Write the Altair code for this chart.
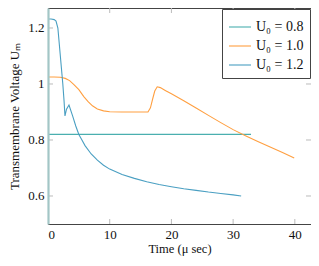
import altair as alt
import pandas as pd

labels = ["U₀ = 0.8", "U₀ = 1.0", "U₀ = 1.2"]
colors = ["#4aafaf", "#ff9f40", "#4a9fc2"]

t_08 = [0, 32.9]
v_08 = [0.82, 0.82]

t_10 = [0, 1, 2, 2.8, 3.5, 4.2, 5, 5.8, 6.5, 7.2, 8, 9, 10, 12, 14, 16.2, 16.6, 17.0, 17.3, 17.7, 18.2, 19,
        20, 22, 24, 26, 28, 30, 32, 34, 36, 38, 39.9]
v_10 = [1.025, 1.025, 1.024, 1.02, 1.012, 0.998, 0.98, 0.955, 0.937, 0.922, 0.911, 0.904, 0.901, 0.9, 0.9, 0.9,
        0.915, 0.95, 0.975, 0.99, 0.987, 0.977, 0.965, 0.94, 0.914, 0.888, 0.862, 0.837, 0.815, 0.795, 0.775,
        0.755, 0.736]

t_12 = [0, 0.5, 1.0, 1.3, 1.6, 2.0, 2.4, 2.6, 2.75, 3.0, 3.4, 4.0, 4.5, 5.0, 5.5, 6, 7, 8, 9, 10, 12, 14, 16,
        18, 20, 22, 24, 26, 28, 30, 31.3]
v_12 = [1.232, 1.232, 1.23, 1.225, 1.2, 1.1, 1.0, 0.94, 0.886, 0.91, 0.925, 0.885, 0.85, 0.82, 0.80, 0.78, 0.75,
        0.728, 0.71, 0.696, 0.677, 0.663, 0.651, 0.641, 0.633, 0.626, 0.62, 0.614, 0.609, 0.604, 0.60]

x_ticks = [0, 10, 20, 30, 40]
y_ticks = [0.6, 0.8, 1.0, 1.2]

rows = []
for lab, ts, vs in zip(labels, [t_08, t_10, t_12], [v_08, v_10, v_12]):
    for i, (t, v) in enumerate(zip(ts, vs)):
        rows.append({"series": lab, "t": t, "v": v, "order": i})
df = pd.DataFrame(rows)

FONT = "Liberation Serif"
W, H = 263, 216
xdom = [0, 42.62]
ydom = [0.5, 1.2714]

xscale = alt.Scale(domain=xdom, nice=False, zero=False)
yscale = alt.Scale(domain=ydom, nice=False, zero=False)

lines = alt.Chart(df).mark_line(strokeWidth=1.1).encode(
    x=alt.X("t:Q", scale=xscale,
            axis=alt.Axis(values=x_ticks, title="Time (μ sec)", domain=False, ticks=False, grid=False,
                          labelPadding=4, titlePadding=1, format="d", titleFontSize=12.5)),
    y=alt.Y("v:Q", scale=yscale,
            axis=alt.Axis(values=y_ticks, title="Transmembrane Voltage Uₘ", domain=True,
                          domainColor="#a3c6c6", domainWidth=2.2, ticks=False, grid=False,
                          labelPadding=4, titlePadding=6, format=".1~f", zindex=1)),
    color=alt.Color("series:N", scale=alt.Scale(domain=labels, range=colors),
                    legend=alt.Legend(title=None, orient="top-right", offset=1,
                                      symbolType="stroke", symbolSize=484, symbolStrokeWidth=1.1,
                                      labelFont=FONT, labelFontSize=14, labelColor="#111",
                                      strokeColor="#444", fillColor="white", padding=6,
                                      rowPadding=0, labelOffset=4)),
    order="order:Q",
)

xt = pd.DataFrame({"t": x_ticks[1:]})
yt = pd.DataFrame({"v": y_ticks})
tc = "#bbbbbb"
xb = alt.Chart(xt).mark_rule(color=tc).encode(x=alt.X("t:Q", scale=xscale), y=alt.value(H), y2=alt.value(H - 5))
xtop = alt.Chart(xt).mark_rule(color=tc).encode(x=alt.X("t:Q", scale=xscale), y=alt.value(0), y2=alt.value(5))
yl = alt.Chart(yt).mark_rule(color=tc).encode(y=alt.Y("v:Q", scale=yscale), x=alt.value(0), x2=alt.value(5))
yr = alt.Chart(yt).mark_rule(color=tc).encode(y=alt.Y("v:Q", scale=yscale), x=alt.value(W), x2=alt.value(W - 5))

chart = alt.layer(xb, xtop, yl, yr, lines).properties(
    width=W, height=H,
    background="white",
    autosize=alt.AutoSizeParams(type="none"),
    padding={"left": 40, "top": 0, "right": 0, "bottom": 34},
).configure_view(stroke="#444", strokeWidth=1).configure_axis(
    labelFont=FONT, labelFontSize=13, labelColor="#111", titleFont=FONT, titleFontSize=13,
    titleFontWeight="normal", titleColor="#111",
)

chart.save("out.html", embed_options={"renderer": "svg", "actions": False})
